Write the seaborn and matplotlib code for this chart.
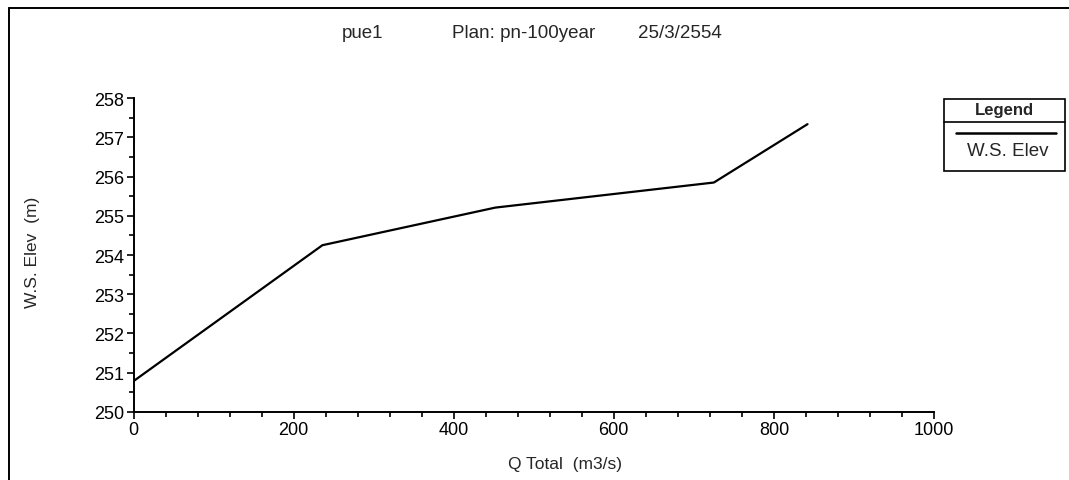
import matplotlib
matplotlib.use("Agg")
import matplotlib.pyplot as plt
from matplotlib.patches import Rectangle
from matplotlib.lines import Line2D
from matplotlib.ticker import MultipleLocator
import seaborn as sns
import pandas as pd

# Rating curve at the cross section
q_total = [0, 236, 452, 725, 842]                        # m3/s
ws_elev = [250.78, 254.25, 255.21, 255.85, 257.34]       # m

title_parts = ["pue1", "Plan: pn-100year", "25/3/2554"]
x_label = "Q Total  (m3/s)"
y_label = "W.S. Elev  (m)"
legend_title = "Legend"
series_name = "W.S. Elev"

sns.set_style("ticks")
plt.rcParams["font.family"] = ["Liberation Sans", "DejaVu Sans"]

W, H = 1069, 481
fig = plt.figure(figsize=(W / 100, H / 100), dpi=100)
fig.patch.set_facecolor("white")

def fx(px):
    return px / W

def fy(py):
    return 1 - py / H

ax = fig.add_axes([fx(133.5), fy(412.7), fx(934) - fx(133.5), fy(99.3) - fy(412.7)])
df = pd.DataFrame({"Q": q_total, "WS": ws_elev})
sns.lineplot(data=df, x="Q", y="WS", ax=ax, color="black", linewidth=1.6, legend=False)

ax.set_xlim(0, 1000)
ax.set_ylim(250, 258)
ax.xaxis.set_major_locator(MultipleLocator(200))
ax.xaxis.set_minor_locator(MultipleLocator(40))
ax.yaxis.set_major_locator(MultipleLocator(1))
ax.yaxis.set_minor_locator(MultipleLocator(0.5))
ax.tick_params(axis="both", which="major", direction="out", length=5, width=1.2,
               color="black", labelsize=13, labelcolor="black", pad=1.5)
ax.tick_params(axis="both", which="minor", direction="out", length=3.5, width=1.2, color="black")
for side in ("top", "right"):
    ax.spines[side].set_visible(False)
for side in ("left", "bottom"):
    ax.spines[side].set_linewidth(1.4)
    ax.spines[side].set_color("black")
ax.set_xlabel("")
ax.set_ylabel("")

# Axis titles
fig.text(fx(565), fy(465), x_label, ha="center", va="center", fontsize=12.5)
fig.text(fx(33), fy(252), y_label, ha="center", va="center", rotation=90, fontsize=12.5)

# Heading, laid out in three spaced groups
for txt, cx in zip(title_parts, [363, 524, 680]):
    fig.text(fx(cx), fy(34), txt, ha="center", va="center", fontsize=13.5)

# Outer frame (left and top edges)
fig.add_artist(Line2D([fx(9), fx(9)], [fy(9), 0], transform=fig.transFigure, color="black", lw=1.4))
fig.add_artist(Line2D([fx(9), 1], [fy(9), fy(9)], transform=fig.transFigure, color="black", lw=1.4))

# Boxed legend
lx0, lx1, ly0, ly1 = 944, 1065, 100, 172
fig.add_artist(Rectangle((fx(lx0), fy(ly1)), fx(lx1) - fx(lx0), fy(ly0) - fy(ly1),
                         transform=fig.transFigure, fill=False, edgecolor="black", lw=1.2))
fig.add_artist(Line2D([fx(lx0), fx(lx1)], [fy(123), fy(123)], transform=fig.transFigure,
                      color="black", lw=1.2))
fig.text(fx((lx0 + lx1) / 2), fy(111), legend_title, ha="center", va="center",
         fontsize=12, fontweight="bold")
fig.add_artist(Line2D([fx(956), fx(1056)], [fy(134), fy(134)], transform=fig.transFigure,
                      color="black", lw=1.8))
fig.text(fx(1008), fy(152), series_name, ha="center", va="center", fontsize=13.5)

fig.savefig("out.png", dpi=100)
